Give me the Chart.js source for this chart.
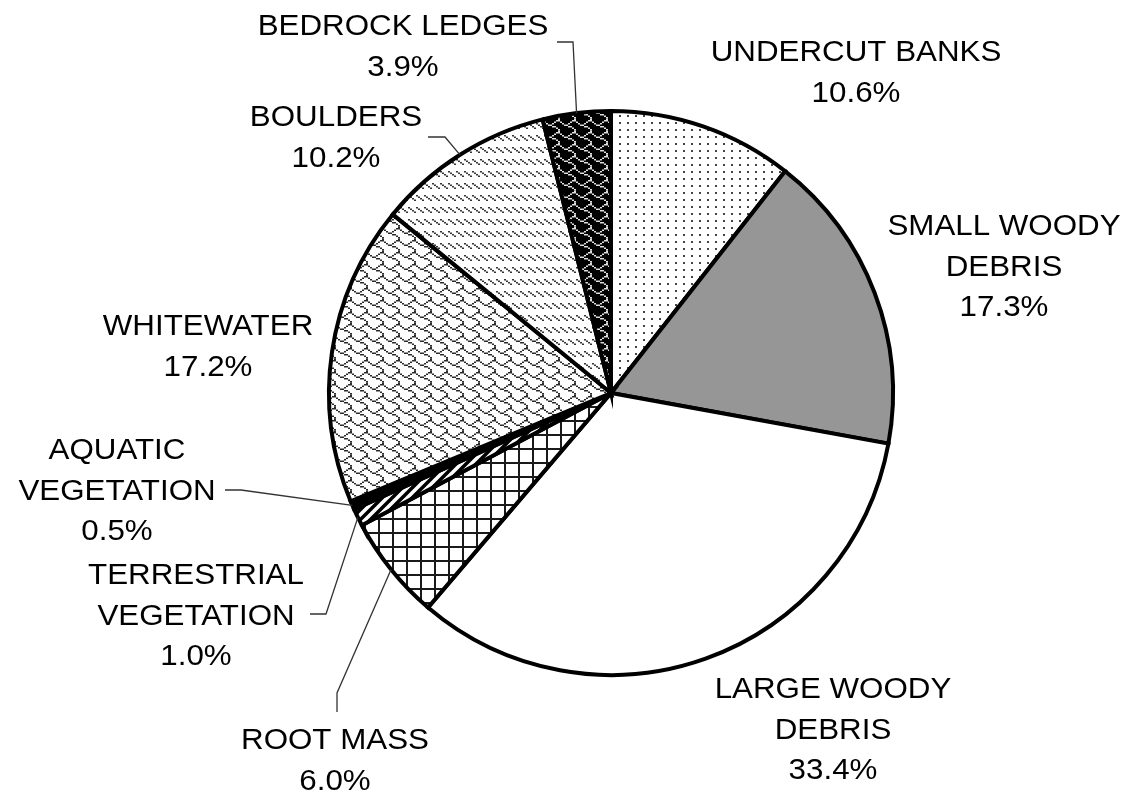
<!DOCTYPE html>
<html>
<head>
<meta charset="utf-8">
<script src="https://cdn.jsdelivr.net/npm/chart.js@4/dist/chart.umd.min.js"></script>
<style>
  html, body { margin: 0; padding: 0; background: #fff; }
  canvas { display: block; }
</style>
</head>
<body>
<canvas id="grafico-habitat" width="1128" height="794"></canvas>
<script>
// Categorias de habitat (cada item = linhas do rótulo)
const categorias = [
  ["UNDERCUT BANKS"],
  ["SMALL WOODY", "DEBRIS"],
  ["LARGE WOODY", "DEBRIS"],
  ["ROOT MASS"],
  ["TERRESTRIAL", "VEGETATION"],
  ["AQUATIC", "VEGETATION"],
  ["WHITEWATER"],
  ["BOULDERS"],
  ["BEDROCK LEDGES"],
];

// Percentual de cada categoria
const percentuais = [10.6, 17.3, 33.4, 6.0, 1.0, 0.5, 17.2, 10.2, 3.9];

// Posição (centro x, y da primeira linha) de cada rótulo
const posRotulos = [
  [856, 53],
  [1004, 227],
  [833, 690],
  [335, 741],
  [196, 576],
  [117, 451],
  [208, 327],
  [336, 118],
  [403, 27],
];

// Linhas guia: pontos a partir do rótulo, o último ponto vai até a fatia
const guias = {
  3: [[337, 712], [337, 693]],
  4: [[310, 614], [326, 614]],
  5: [[225, 490], [241, 490]],
  7: [[428, 137], [445, 137]],
  8: [[557, 42], [573, 42]],
};

// Gera uma textura a partir de um bitmap 8x8
function padraoBits(linhas, sx, sy, frente, fundo) {
  const c = document.createElement("canvas");
  c.width = 8 * sx;
  c.height = 8 * sy;
  const g = c.getContext("2d");
  g.fillStyle = fundo;
  g.fillRect(0, 0, c.width, c.height);
  g.fillStyle = frente;
  linhas.forEach((bits, y) => {
    for (let x = 0; x < 8; x++) {
      if (bits & (0x80 >> x)) g.fillRect(x * sx, y * sy, sx, sy);
    }
  });
  return g.createPattern(c, "repeat");
}

function padraoPontos() {
  const c = document.createElement("canvas");
  c.width = 8;
  c.height = 7;
  const g = c.getContext("2d");
  g.fillStyle = "#fff";
  g.fillRect(0, 0, 8, 7);
  g.fillStyle = "#444";
  g.fillRect(3, 3, 2, 2);
  return g.createPattern(c, "repeat");
}

function padraoGrade() {
  const c = document.createElement("canvas");
  c.width = 14;
  c.height = 14;
  const g = c.getContext("2d");
  g.fillStyle = "#fff";
  g.fillRect(0, 0, 14, 14);
  g.fillStyle = "#1a1a1a";
  g.fillRect(0, 0, 14, 2);
  g.fillRect(0, 0, 2, 14);
  return g.createPattern(c, "repeat");
}

function padraoListras() {
  const c = document.createElement("canvas");
  c.width = 10;
  c.height = 10;
  const g = c.getContext("2d");
  g.fillStyle = "#fff";
  g.fillRect(0, 0, 10, 10);
  g.strokeStyle = "#000";
  g.lineWidth = 3.5;
  g.beginPath();
  g.moveTo(-5, 5); g.lineTo(5, -5);
  g.moveTo(0, 10); g.lineTo(10, 0);
  g.moveTo(5, 15); g.lineTo(15, 5);
  g.stroke();
  return g.createPattern(c, "repeat");
}

const bitsTelha = [0x03, 0x84, 0x48, 0x30, 0x0c, 0x02, 0x01, 0x01];
const bitsTracejado = [0x00, 0x00, 0x88, 0x44, 0x22, 0x11, 0x00, 0x00];

const preenchimentos = [
  padraoPontos(),
  "#969696",
  "#ffffff",
  padraoGrade(),
  padraoListras(),
  "#000000",
  padraoBits(bitsTelha, 2, 1.5, "#2a2a2a", "#fff"),
  padraoBits(bitsTracejado, 2, 1.5, "#333", "#fff"),
  padraoBits(bitsTelha, 2, 1.5, "#ddd", "#000"),
];

const rotulosPlugin = {
  id: "rotulos",
  afterDraw(chart) {
    const { ctx } = chart;
    const arcos = chart.getDatasetMeta(0).data;
    ctx.save();

    // Linhas guia até o meio da borda da fatia
    ctx.strokeStyle = "#333";
    ctx.lineWidth = 1.3;
    for (const i in guias) {
      const arco = arcos[i];
      const meio = (arco.startAngle + arco.endAngle) / 2;
      const r = arco.outerRadius;
      ctx.beginPath();
      guias[i].forEach(([x, y], k) => (k ? ctx.lineTo(x, y) : ctx.moveTo(x, y)));
      ctx.lineTo(arco.x + Math.cos(meio) * r, arco.y + Math.sin(meio) * r);
      ctx.stroke();
    }

    // Textos: nome + percentual
    ctx.fillStyle = "#000";
    ctx.font = "29px 'Liberation Sans', Arial, sans-serif";
    ctx.textAlign = "center";
    ctx.textBaseline = "middle";
    categorias.forEach((linhas, i) => {
      const [x, y] = posRotulos[i];
      const todas = [...linhas, percentuais[i].toFixed(1) + "%"];
      todas.forEach((txt, k) => {
        ctx.save();
        ctx.translate(x, y + k * 40.5);
        ctx.scale(1.08, 1);
        ctx.fillText(txt, 0, 0);
        ctx.restore();
      });
    });
    ctx.restore();
  },
};

const canvas = document.getElementById("grafico-habitat");
new Chart(canvas.getContext("2d"), {
  type: "pie",
  plugins: [rotulosPlugin],
  data: {
    labels: categorias.map((l) => l.join(" ")),
    datasets: [
      {
        data: percentuais,
        backgroundColor: preenchimentos,
        borderColor: "#000",
        borderWidth: 4,
        borderJoinStyle: "miter",
      },
    ],
  },
  options: {
    responsive: false,
    animation: false,
    radius: 282,
    layout: { padding: { left: 94, right: 0, top: 0, bottom: 8 } },
    plugins: {
      legend: { display: false },
      tooltip: { enabled: false },
    },
  },
});
</script>
</body>
</html>
